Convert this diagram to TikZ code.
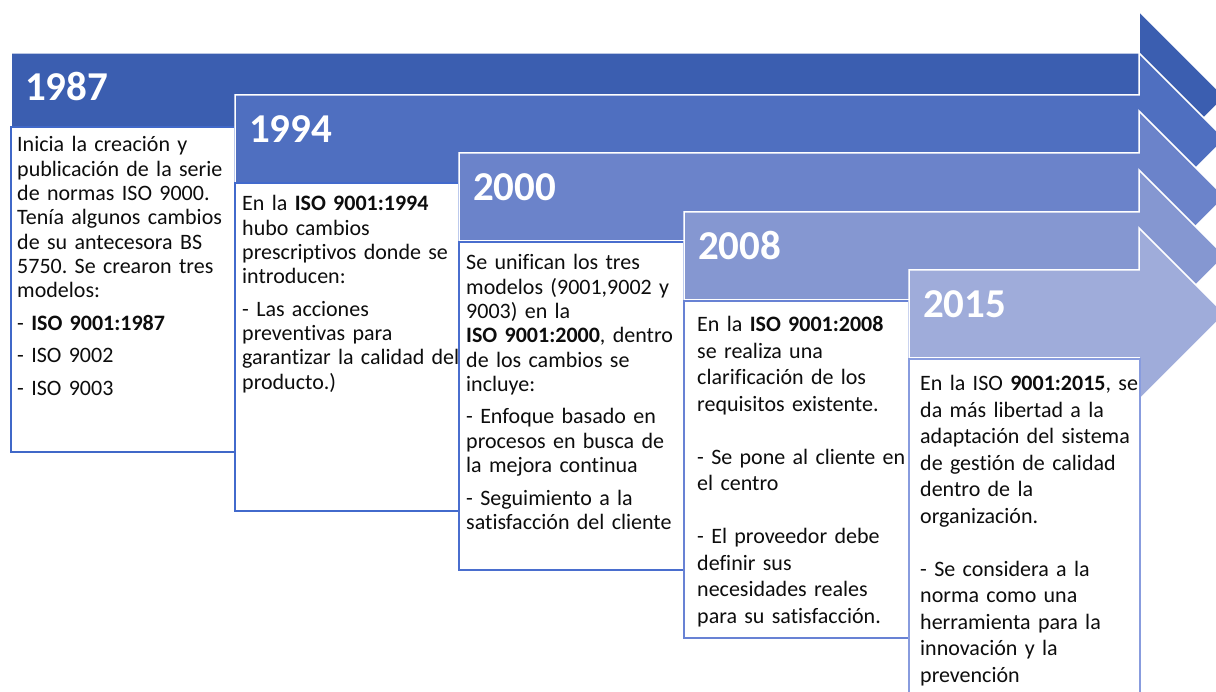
\documentclass[tikz,border=0pt]{standalone}
\usepackage{fontspec}
\setmainfont{Carlito}[Ligatures=NoCommon]
\frenchspacing
\usetikzlibrary{positioning}
\usetikzlibrary{calc}

\definecolor{arrowA}{RGB}{59,94,176}
\definecolor{arrowB}{RGB}{79,111,192}
\definecolor{arrowC}{RGB}{107,131,202}
\definecolor{arrowD}{RGB}{133,151,209}
\definecolor{arrowE}{RGB}{159,172,218}
\definecolor{lineA}{RGB}{64,104,200}
\definecolor{lineB}{RGB}{66,106,204}
\definecolor{lineC}{RGB}{74,110,206}
\definecolor{lineD}{RGB}{104,130,212}
\definecolor{lineE}{RGB}{136,156,222}

\begin{document}
\begin{tikzpicture}[x=1pt, y=-1pt,
    arrowshape/.style={draw=white, line width=1.5pt, line join=miter},
    textframe/.style={fill=white, line width=1.2pt},
    yearlabel/.style={anchor=base west, inner sep=0pt, text=white, font=\fontsize{41}{41}\selectfont\bfseries},
    boxtext/.style={anchor=base west, inner sep=0pt, text width=250pt, align=left, text=black!95, font=\fontsize{22}{24.3}\selectfont},
    widetext/.style={boxtext, font=\fontsize{22}{26.5}\selectfont}]

        % Page frame
        \useasboundingbox (0,0) rectangle (1216,692);

        % Neck of the arrow heads
        \def\neck{1139}

        % Height of an arrow bar
        \def\barh{88}

        % How far a head stands out over its bar
        \def\headover{42}

        % Draw the arrows, each with its text box under it
        \foreach \yr/\L/\T/\BT/\BB/\R/\fillc/\linec in {
            1987/11/53/127/452/235/arrowA/lineA,
            1994/235/95/183/511/459/arrowB/lineB,
            2000/459/153/242/570/684/arrowC/lineC,
            2008/684/212/301/638/909/arrowD/lineD,
            2015/909/270/359/700/1140/arrowE/lineE} {
          % Arrow bar and head
          \draw[arrowshape, fill=\fillc] (\L,\T) -- (\neck,\T) -- (\neck,\T-\headover)
            -- (\neck+\barh/2+\headover,\T+\barh/2) -- (\neck,\T+\barh+\headover)
            -- (\neck,\T+\barh) -- (\L,\T+\barh) -- cycle;

          % Text box
          \draw[textframe, draw=\linec] (\L,\BT) rectangle (\R,\BB);
          \coordinate (b\yr) at (\L,\BT);

          % Year on the bar
          \node[yearlabel] (y\yr) at (\L+14,\T+48) {\yr};
        }

        % Texts of the boxes
        \node[boxtext] (t1987) at ([xshift=6pt, yshift=-25pt]b1987) {Inicia la creación y\\ publicación de la serie\\ de normas ISO 9000.\\ Tenía algunos cambios\\ de su antecesora BS\\ 5750. Se crearon tres\\ modelos:\\[8pt] - \textbf{ISO 9001:1987}\\[8pt] - ISO 9002\\[8.5pt] - ISO 9003};

        \node[boxtext] (t1994) at ([xshift=7pt, yshift=-28pt]b1994) {En la \textbf{ISO 9001:1994}\\ hubo cambios\\ prescriptivos donde se\\ introducen:\\[8pt] - Las acciones\\ preventivas para\\ garantizar la calidad del\\ producto.)};

        \node[boxtext] (t2000) at ([xshift=7pt, yshift=-28pt]b2000) {Se unifican los tres\\ modelos (9001,9002 y\\ 9003) en la\\ \textbf{ISO 9001:2000}, dentro\\ de los cambios se\\ incluye:\\[8pt] - Enfoque basado en\\ procesos en busca de\\ la mejora continua\\[9pt] - Seguimiento a la\\ satisfacción del cliente};

        \node[widetext] (t2008) at ([xshift=13pt, yshift=-31pt]b2008) {En la \textbf{ISO 9001:2008}\\ se realiza una\\ clarificación de los\\ requisitos existente.\\[26.5pt] - Se pone al cliente en\\ el centro\\[26.5pt] - El proveedor debe\\ definir sus\\ necesidades reales\\ para su satisfacción.};

        \node[widetext] (t2015) at ([xshift=11pt, yshift=-32pt]b2015) {En la ISO \textbf{9001:2015}, se\\ da más libertad a la\\ adaptación del sistema\\ de gestión de calidad\\ dentro de la\\ organización.\\[26.5pt] - Se considera a la\\ norma como una\\ herramienta para la\\ innovación y la\\ prevención};

      \end{tikzpicture}
\end{document}
